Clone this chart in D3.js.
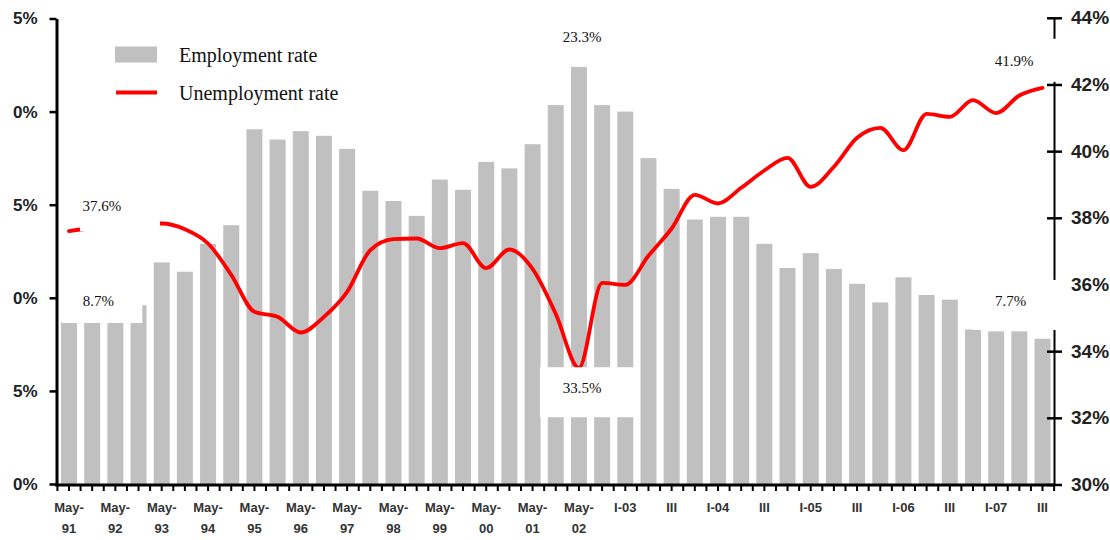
<!DOCTYPE html>
<html><head><meta charset="utf-8">
<script src="https://cdn.jsdelivr.net/npm/d3@7"></script>
<style>body{margin:0;background:#fff}svg{display:block}</style>
</head><body>
<svg id="chart" width="1110" height="540"></svg>
<script>
// ---------- DATA ----------
const categories = [
  "May-91","Nov-91","May-92","Nov-92","May-93","Nov-93","May-94","Nov-94",
  "May-95","Nov-95","May-96","Nov-96","May-97","Nov-97","May-98","Nov-98",
  "May-99","Nov-99","May-00","Nov-00","May-01","Nov-01","May-02","Nov-02",
  "I-03","II-03","III-03","IV-03","I-04","II-04","III-04","IV-04",
  "I-05","II-05","III-05","IV-05","I-06","II-06","III-06","IV-06",
  "I-07","II-07","III-07"
];
const employmentRate = [
  8.7, 8.7, 8.7, 9.6, 11.9, 11.4, 12.9, 13.9,
  19.05, 18.5, 18.95, 18.7, 18.0, 15.75, 15.2, 14.4,
  16.35, 15.8, 17.3, 16.95, 18.25, 20.35, 22.4, 20.35,
  20.0, 17.5, 15.85, 14.2, 14.35, 14.35, 12.9, 11.6,
  12.4, 11.55, 10.75, 9.75, 11.1, 10.15, 9.9, 8.3,
  8.2, 8.2, 7.8
];
const unemploymentRate = [
  37.6, 37.68, 37.69, 37.77, 37.83, 37.66, 37.23, 36.29,
  35.18, 35.03, 34.56, 35.03, 35.78, 37.03, 37.36, 37.38,
  37.09, 37.24, 36.49, 37.05, 36.47, 35.12, 33.5, 36.05,
  35.99, 36.86, 37.68, 38.69, 38.43, 38.9, 39.42, 39.8,
  38.93, 39.53, 40.4, 40.7, 40.03, 41.12, 41.03, 41.53,
  41.14, 41.67, 41.9
];
const leftTicks = [0, 5, 10, 15, 20, 25];
const leftTickLabels = ["0%", "5%", "0%", "5%", "0%", "5%"];
const rightTicks = [30, 32, 34, 36, 38, 40, 42, 44];
const rightTickLabels = ["30%", "32%", "34%", "36%", "38%", "40%", "42%", "44%"];
const shownTicks = ["May-91","May-92","May-93","May-94","May-95","May-96","May-97","May-98",
  "May-99","May-00","May-01","May-02","I-03","III-03","I-04","III-04","I-05","III-05",
  "I-06","III-06","I-07","III-07"];
const shownTickLabels = [["May-","91"],["May-","92"],["May-","93"],["May-","94"],["May-","95"],
  ["May-","96"],["May-","97"],["May-","98"],["May-","99"],["May-","00"],["May-","01"],["May-","02"],
  ["I-03"],["III"],["I-04"],["III"],["I-05"],["III"],["I-06"],["III"],["I-07"],["III"]];
const seriesNames = ["Employment rate", "Unemployment rate"];
const labelTexts = ["37.6%", "8.7%", "23.3%", "33.5%", "41.9%", "7.7%"];
const labelSeries = ["line", "bar", "bar", "line", "line", "bar"];
const labelCategory = ["May-91", "May-91", "May-02", "May-02", "III-07", "III-07"];

// ---------- LAYOUT (offsets from anchor point) ----------
const labelLayout = [
  {tx: 33, ty: -20.5, bx: 11, by: -41, bw: 80, bh: 41},
  {tx: 29.4, ty: -16, bx: -7, by: -42, bw: 80.3, bh: 43},
  {tx: 3.3, ty: -25, bx: -34, by: -43, bw: 75, bh: 30},
  {tx: 3.3, ty: 25.5, bx: -39, by: -0.6, bw: 95, bh: 50},
  {tx: -28.4, ty: -22, bx: -67.6, by: -49, bw: 85, bh: 43},
  {tx: -32, ty: -32.8, bx: -69.6, by: -58.8, bw: 93, bh: 50}
];

const svg = d3.select("#chart");
const x = d3.scaleBand().domain(categories).range([57.4, 1054.1]).paddingInner(0.31).paddingOuter(0.155);
const yL = d3.scaleLinear().domain([0, 25]).range([484, 18.5]);
const yR = d3.scaleLinear().domain([30, 44]).range([484.5, 17.8]);
const cx = c => x(c) + x.bandwidth() / 2;
const sansFont = "'Liberation Sans', Arial, sans-serif";
const serifFont = "'Liberation Serif', 'Times New Roman', serif";

// bars
svg.append("g").selectAll("rect").data(categories).join("rect")
  .attr("x", d => x(d)).attr("width", x.bandwidth())
  .attr("y", (d, i) => yL(employmentRate[i]))
  .attr("height", (d, i) => yL(0) - yL(employmentRate[i]))
  .attr("fill", "#c0c0c0");

// line
const line = d3.line().x((d, i) => cx(categories[i])).y(d => yR(d)).curve(d3.curveMonotoneX);
svg.append("path").datum(unemploymentRate).attr("d", line)
  .attr("fill", "none").attr("stroke", "#ff0000").attr("stroke-width", 3.8)
  .attr("stroke-linejoin", "round").attr("stroke-linecap", "round");

// left axis
const gL = svg.append("g").attr("transform", "translate(56.5,0)")
  .call(d3.axisLeft(yL).tickValues(leftTicks).tickFormat((d, i) => leftTickLabels[i])
    .tickSize(7).tickSizeOuter(0).tickPadding(12));
gL.select(".domain").attr("stroke", "#000").attr("stroke-width", 3);
gL.selectAll(".tick line").attr("stroke", "#000").attr("stroke-width", 2.5);
gL.selectAll(".tick text").attr("font-family", sansFont).attr("font-weight", "bold")
  .attr("font-size", 17).attr("fill", "#222");

// right axis
const gR = svg.append("g").attr("transform", "translate(1054,0)")
  .call(d3.axisRight(yR).tickValues(rightTicks).tickFormat((d, i) => rightTickLabels[i])
    .tickSize(8).tickSizeOuter(0).tickPadding(9));
gR.select(".domain").attr("stroke", "#000").attr("stroke-width", 2);
gR.selectAll(".tick line").attr("x1", -7).attr("x2", 8).attr("stroke", "#000").attr("stroke-width", 2.5);
gR.selectAll(".tick text").attr("font-family", sansFont).attr("font-weight", "bold")
  .attr("font-size", 19).attr("fill", "#222");

// x axis
const gX = svg.append("g");
gX.append("line").attr("x1", 55).attr("x2", 1055).attr("y1", 485).attr("y2", 485)
  .attr("stroke", "#000").attr("stroke-width", 3);
const halfSteps = d3.range(categories.length * 2 + 1);
gX.selectAll(".xt").data(halfSteps).join("line").attr("class", "xt")
  .attr("x1", k => x(categories[0]) - x.step() * x.paddingInner() / 2 + k * x.step() / 2)
  .attr("x2", k => x(categories[0]) - x.step() * x.paddingInner() / 2 + k * x.step() / 2)
  .attr("y1", 485).attr("y2", 491).attr("stroke", "#000").attr("stroke-width", 2);
const xl = gX.selectAll(".xl").data(shownTicks).join("text").attr("class", "xl")
  .attr("x", d => cx(d)).attr("y", 512).attr("text-anchor", "middle")
  .attr("font-family", sansFont).attr("font-weight", "bold").attr("font-size", 13)
  .attr("fill", "#333");
xl.each(function(d, i) {
  const t = d3.select(this);
  shownTickLabels[i].forEach((s, j) => {
    t.append("tspan").attr("x", cx(d)).attr("dy", j === 0 ? 0 : 21).text(s);
  });
});

// data labels with white boxes
const ann = svg.append("g");
labelTexts.forEach((txt, i) => {
  const c = labelCategory[i];
  const idx = categories.indexOf(c);
  const ax = cx(c);
  const ay = labelSeries[i] === "line" ? yR(unemploymentRate[idx]) : yL(employmentRate[idx]);
  const L = labelLayout[i];
  ann.append("rect").attr("x", ax + L.bx).attr("y", ay + L.by)
    .attr("width", L.bw).attr("height", L.bh).attr("fill", "#fff");
  ann.append("text").attr("x", ax + L.tx).attr("y", ay + L.ty).attr("text-anchor", "middle")
    .attr("font-family", serifFont).attr("font-size", 15).attr("fill", "#111").text(txt);
});

// legend
const lg = svg.append("g");
lg.append("rect").attr("x", 115).attr("y", 46.5).attr("width", 42).attr("height", 16).attr("fill", "#c0c0c0");
lg.append("line").attr("x1", 116).attr("x2", 157).attr("y1", 92.5).attr("y2", 92.5)
  .attr("stroke", "#ff0000").attr("stroke-width", 4);
lg.selectAll(".lt").data(seriesNames).join("text").attr("class", "lt")
  .attr("x", 179).attr("y", (d, i) => 62 + i * 38)
  .attr("font-family", serifFont).attr("font-size", 20).attr("fill", "#111").text(d => d);
</script>
</body></html>
